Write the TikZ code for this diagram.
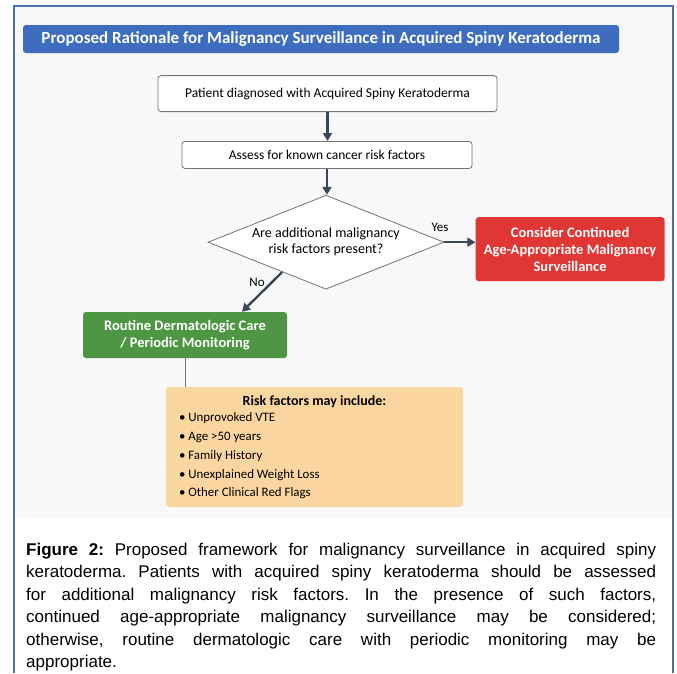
\documentclass[tikz,border=0pt]{standalone}
\usepackage{fontspec}
\setmainfont{Carlito}
\newfontfamily\captionfont{Liberation Sans}
\usepackage{tikz}
\usetikzlibrary{positioning, arrows.meta, shapes.geometric, calc}
\definecolor{barblue}{RGB}{62,108,190}
\definecolor{frameblue}{RGB}{79,113,170}
\definecolor{boxgray}{RGB}{115,115,115}
\definecolor{alertred}{RGB}{224,55,52}
\definecolor{routinegreen}{RGB}{78,150,68}
\definecolor{notepeach}{RGB}{252,214,160}
\definecolor{arrowslate}{RGB}{58,70,90}
\definecolor{linkgray}{RGB}{120,120,120}
\definecolor{panelgray}{RGB}{248,248,248}

\begin{document}
\begin{tikzpicture}[
        x=1pt, y=-1pt,
        node distance=26pt,
        banner/.style={rectangle, rounded corners=3pt, fill=barblue, text=white, minimum width=596pt, minimum height=28pt, inner sep=0pt, font=\bfseries\fontsize{17}{20}\selectfont},
        process/.style={rectangle, rounded corners=3pt, draw=boxgray, line width=0.8pt, fill=white, inner sep=0pt, text centered, font=\fontsize{13.5}{16}\selectfont},
        decision/.style={diamond, aspect=2.5, draw=boxgray, line width=0.8pt, fill=white, minimum width=236pt, minimum height=94pt, inner sep=0pt, align=center, font=\fontsize{14}{16}\selectfont},
        outcome/.style={rectangle, rounded corners=3pt, text=white, inner sep=0pt, align=center, font=\bfseries\fontsize{14.5}{17}\selectfont},
        note/.style={rectangle, rounded corners=3pt, fill=notepeach, minimum width=297pt, minimum height=120pt},
        tag/.style={inner sep=0pt, font=\fontsize{13}{15}\selectfont},
        arrow/.style={line width=2.4pt, draw=arrowslate, -{Triangle[length=8pt,width=9pt]}},
        link/.style={line width=1pt, draw=linkgray},
        frame/.style={line width=1.2pt, draw=frameblue}
    ]
    \useasboundingbox (0,0) rectangle (677,673);

    % Panel and frame
    \fill [panelgray] (14,6) rectangle (673,518);
    \draw [frame] (14,673) -- (14,6) -- (673,6) -- (673,673);

    % Nodes
    \node (Title) [banner] at (321,39) {Proposed Rationale for Malignancy Surveillance in Acquired Spiny Keratoderma};
    \node (Patient) [process, below=22pt of Title, xshift=6.5pt, minimum width=339pt, minimum height=36pt] {Patient diagnosed with Acquired Spiny Keratoderma};
    \node (Assess) [process, below=29pt of Patient, xshift=-0.5pt, minimum width=290pt, minimum height=27pt] {Assess for known cancer risk factors};
    \node (Decision) [decision, below=26pt of Assess, xshift=-1pt] {Are additional malignancy\\risk factors present?};

    % Outcome branch
    \node (Surveil) [outcome, fill=alertred, right=31pt of Decision, yshift=-7pt, minimum width=189pt, minimum height=64pt] {Consider Continued\\Age-Appropriate Malignancy\\Surveillance};
    \node (Routine) [outcome, fill=routinegreen, minimum width=204pt, minimum height=46pt] at (185,335) {Routine Dermatologic Care\\/ Periodic Monitoring};

    % Risk factor note
    \node (Risks) [note] at (314.5,447) {};
    \node (RiskTitle) [inner sep=0pt, below=9pt of Risks.north, font=\bfseries\fontsize{14}{16}\selectfont] {Risk factors may include:};
    \node (RiskList) [inner sep=0pt, anchor=north west, align=left, font=\fontsize{12.9}{18.75}\selectfont] at ($(Risks.north west)+(13,26)$) {\textbullet\ Unprovoked VTE\\\textbullet\ Age >50 years\\\textbullet\ Family History\\\textbullet\ Unexplained Weight Loss\\\textbullet\ Other Clinical Red Flags};

    % Branch labels
    \node (YesTag) [tag] at (440,227) {Yes};
    \node (NoTag) [tag] at (257,282) {No};

    % Arrows
    \draw [arrow] (Patient.south) -- (Patient.south |- Assess.north);
    \draw [arrow] (Assess.south) -- (Assess.south |- Decision.north);
    \draw [arrow] (Decision.east) -- (Decision.east -| Surveil.west);
    \draw [arrow] ($(Decision.west)!0.63!(Decision.south)$) -- ($(Routine.north)+(57,0)$);
    \draw [link] (Routine.south) -- (Routine.south |- Risks.north);

    % Caption
    \node (Caption) [inner sep=0pt, anchor=north west, text width=630pt, align=justify, font=\captionfont\fontsize{17}{22.5}\selectfont] at (26,542.5) {\frenchspacing\textbf{Figure 2:} Proposed framework for malignancy surveillance in acquired spiny\linebreak keratoderma. Patients with acquired spiny keratoderma should be assessed\linebreak for additional malignancy risk factors. In the presence of such factors,\linebreak continued age-appropriate malignancy surveillance may be considered;\linebreak otherwise, routine dermatologic care with periodic monitoring may be\linebreak appropriate.};

\end{tikzpicture}
\end{document}
